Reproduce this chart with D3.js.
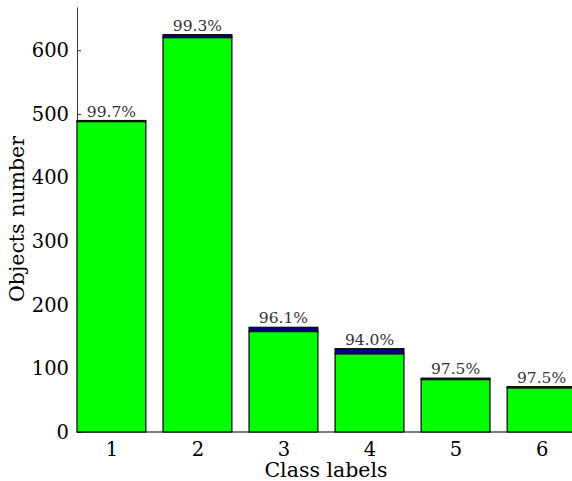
<!DOCTYPE html>
<html>
<head>
<meta charset="utf-8">
<script src="https://cdn.jsdelivr.net/npm/d3@7"></script>
<style>
  body { margin: 0; background: #fff; }
  svg text { font-family: "DejaVu Serif", serif; }
</style>
</head>
<body>
<div class="chart"></div>
<script>
// class labels and counts (green = correctly classified, navy = misclassified)
var classes = [1, 2, 3, 4, 5, 6];
var correct = [488, 620, 158, 123, 82.5, 69.5];
var wrong = [1.5, 4.5, 6.5, 8, 2.1, 1.8];
var accuracy = ["99.7%", "99.3%", "96.1%", "94.0%", "97.5%", "97.5%"];
var yTicks = [0, 100, 200, 300, 400, 500, 600];

var svgWidth = 572, svgHeight = 481;
var svg = d3.select(".chart").append("svg")
  .attr("width", svgWidth)
  .attr("height", svgHeight);

// scales
var x = d3.scaleLinear().domain([0.6, 6.4]).range([77, 576]);
var y = d3.scaleLinear().domain([0, 668]).range([432, 7]);
var barW = x(1.4) - x(0.6);

var data = classes.map(function(c, i) {
  return { c: c, ok: correct[i], bad: wrong[i], acc: accuracy[i] };
});

// axes
var yAxis = d3.axisLeft(y).tickValues(yTicks).tickFormat(d3.format("d"))
  .tickSizeInner(-4).tickSizeOuter(0).tickPadding(8);
var gy = svg.append("g").attr("transform", "translate(77,0)").call(yAxis);
gy.select(".domain").attr("stroke", "#333");
gy.selectAll(".tick line").attr("stroke", "#333");
gy.selectAll("text").attr("font-size", "19.5px").attr("fill", "#000")
  .attr("font-family", "DejaVu Serif, serif");

var xAxis = d3.axisBottom(x).tickValues(classes).tickFormat(d3.format("d"))
  .tickSizeInner(-4).tickSizeOuter(0).tickPadding(10);
var gx = svg.append("g").attr("transform", "translate(0,432)").call(xAxis);
gx.select(".domain").attr("stroke", "#000").attr("d", "M77,0H572");
gx.selectAll("text").attr("font-size", "19.5px").attr("fill", "#000")
  .attr("font-family", "DejaVu Serif, serif");

// bars
var bars = svg.append("g").selectAll("g").data(data).enter().append("g");
bars.append("rect")
  .attr("x", d => x(d.c) - barW / 2)
  .attr("width", barW)
  .attr("y", d => y(d.ok))
  .attr("height", d => y(0) - y(d.ok))
  .attr("fill", "#00ff00")
  .attr("stroke", "#111")
  .attr("stroke-width", 1.3);
bars.append("rect")
  .attr("x", d => x(d.c) - barW / 2)
  .attr("width", barW)
  .attr("y", d => y(d.ok + d.bad))
  .attr("height", d => y(d.ok) - y(d.ok + d.bad))
  .attr("fill", "#000080")
  .attr("stroke", "#111")
  .attr("stroke-width", 1.3);

// percentage labels
bars.append("text")
  .attr("x", d => x(d.c))
  .attr("y", d => y(d.ok + d.bad) - 4)
  .attr("text-anchor", "middle")
  .attr("font-size", "15.5px")
  .attr("fill", "#333")
  .text(d => d.acc);

// axis titles
svg.append("text")
  .attr("x", 326).attr("y", 477)
  .attr("text-anchor", "middle")
  .attr("font-size", "20.5px")
  .text("Class labels");
svg.append("text")
  .attr("transform", "translate(24,219) rotate(-90)")
  .attr("text-anchor", "middle")
  .attr("font-size", "20.5px")
  .text("Objects number");
</script>
</body>
</html>
